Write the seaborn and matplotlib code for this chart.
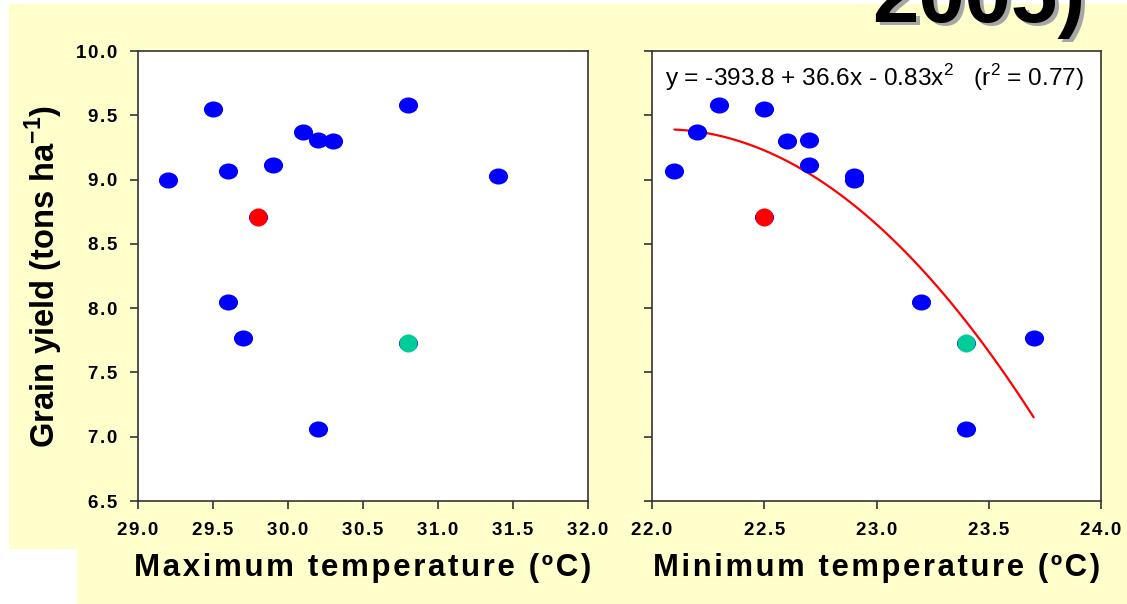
import numpy as np
import pandas as pd
import seaborn as sns
import matplotlib.pyplot as plt
from matplotlib.path import Path
from matplotlib.patches import Rectangle

# Data
grain_yield = [9.00, 9.55, 9.07, 8.05, 7.77, 8.71, 9.11, 9.37, 9.31, 9.30, 7.06, 9.58, 7.73, 9.03]
t_max = [29.2, 29.5, 29.6, 29.6, 29.7, 29.8, 29.9, 30.1, 30.2, 30.3, 30.2, 30.8, 30.8, 31.4]
t_min = [22.9, 22.5, 22.1, 23.2, 23.7, 22.5, 22.7, 22.2, 22.7, 22.6, 23.4, 22.3, 23.4, 22.9]
highlight = ['n', 'n', 'n', 'n', 'n', 'red', 'n', 'n', 'n', 'n', 'n', 'n', 'teal', 'n']
yticks = [6.5, 7.0, 7.5, 8.0, 8.5, 9.0, 9.5, 10.0]
xticks_max = [29.0, 29.5, 30.0, 30.5, 31.0, 31.5, 32.0]
xticks_min = [22.0, 22.5, 23.0, 23.5, 24.0]

df = pd.DataFrame({'yield': grain_yield, 'tmax': t_max, 'tmin': t_min, 'hl': highlight})

sns.set_theme(style='ticks', rc={'text.color': 'black', 'axes.labelcolor': 'black',
                                 'xtick.labelcolor': 'black', 'ytick.labelcolor': 'black'})
plt.rcParams['font.family'] = ['Liberation Sans', 'DejaVu Sans']
plt.rcParams['mathtext.fontset'] = 'custom'
plt.rcParams['mathtext.rm'] = 'Liberation Sans'
plt.rcParams['mathtext.bf'] = 'Liberation Sans:bold'


def spaced(s, gap):
    # imitate the letter spacing of the original slide
    return gap.join(s)


HAIR = '\u200a'

bg = '#FFFFCC'
fig = plt.figure(figsize=(11.27, 6.04), dpi=100)
fig.patch.set_facecolor(bg)
W, H = 1127, 604
for x0, y0, w, h in [(0, 0, 9, 604), (0, 0, 77, 55), (0, 600, 1127, 4)]:
    fig.add_artist(Rectangle((x0 / W, y0 / H), w / W, h / H, transform=fig.transFigure,
                             facecolor='white', edgecolor='none', zorder=0))

ax1 = fig.add_axes([138 / W, 1 - 501 / H, 450 / W, 450 / H])
ax2 = fig.add_axes([652 / W, 1 - 501 / H, 449 / W, 450 / H])

circ = Path.unit_circle()
oval = Path(circ.vertices * np.array([1.0, 0.84]), circ.codes)

colors = {'red': '#FF0000', 'teal': '#00CC99'}
for ax, col, xt in [(ax1, 'tmax', xticks_max), (ax2, 'tmin', xticks_min)]:
    ax.set_facecolor('white')
    sns.scatterplot(data=df, x=col, y='yield', ax=ax, color='#0000FF', marker=oval,
                    s=190, linewidth=0, zorder=3)
    for key, c in colors.items():
        sub = df[df['hl'] == key]
        sns.scatterplot(data=sub, x=col, y='yield', ax=ax, color=c, s=170,
                        linewidth=0, zorder=4)
    ax.set_ylim(6.5, 10.0)
    ax.set_yticks(yticks)
    ax.set_xticks(xt)
    ax.set_xticklabels([spaced('%.1f' % v, HAIR) for v in xt], fontweight='bold')
    for sp in ax.spines.values():
        sp.set_visible(True)
        sp.set_color('#333333')
        sp.set_linewidth(1.2)
    ax.tick_params(direction='out', length=6, width=1.2, color='#333333',
                   labelcolor='black', labelsize=13.5, pad=9)

ax1.set_xlim(29.0, 32.0)
ax1.set_yticklabels([spaced('%.1f' % v, HAIR) for v in yticks], fontweight='bold')
ax2.set_yticklabels([])

# quadratic fit drawn by seaborn
sns.regplot(data=df, x='tmin', y='yield', order=2, ci=None, scatter=False, ax=ax2,
            line_kws={'color': '#FF0000', 'linewidth': 1.6, 'zorder': 2})
ax2.set_xlim(22.0, 24.0)
ax2.set_ylim(6.5, 10.0)

ax1.set_xlabel(spaced('Maximum temperature (ºC)', HAIR), fontsize=22.5, fontweight='bold',
               labelpad=10, color='black')
ax2.set_xlabel(spaced('Minimum temperature (ºC)', HAIR), fontsize=22.3, fontweight='bold',
               labelpad=10, color='black')
ax1.set_ylabel('Grain yield (tons ha$^{\\mathbf{-1}}$)', fontsize=23.5, fontweight='bold',
               labelpad=8, color='black')
ax2.set_ylabel('')

ax2.text(0.03, 0.94, 'y = -393.8 + 36.6x - 0.83x$^2$   (r$^2$ = 0.77)', transform=ax2.transAxes,
         fontsize=17.6, ha='left', va='center', color='black',
         family=['Liberation Sans Narrow', 'Liberation Sans', 'DejaVu Sans'])

# clipped heading at the top right
fig.text(1089 / W, 1 - 25 / H, '2005)', fontsize=60, fontweight='bold', color='#A6A6A6',
         ha='right', va='baseline')
fig.text(1085 / W, 1 - 22 / H, '2005)', fontsize=60, fontweight='bold', color='black',
         ha='right', va='baseline')

fig.savefig('out.png', dpi=100, facecolor=fig.get_facecolor())
